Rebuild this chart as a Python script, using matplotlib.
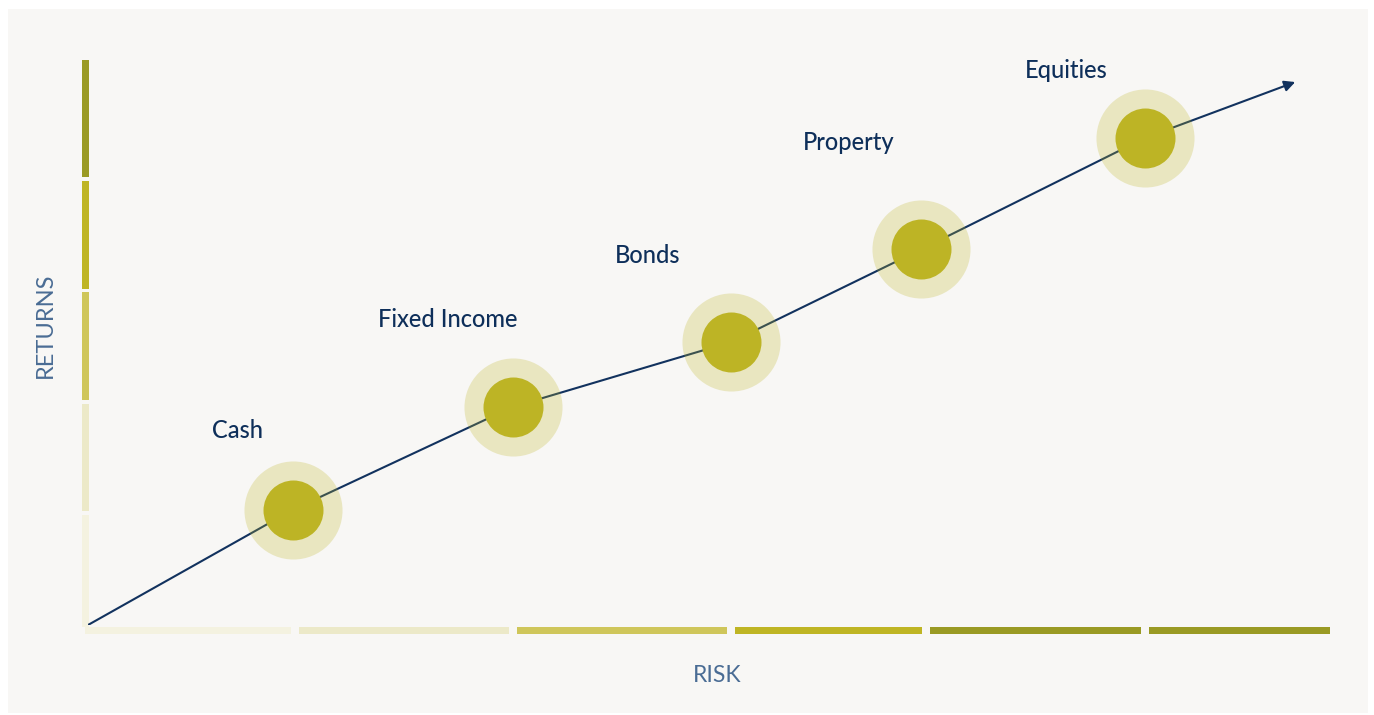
import matplotlib.pyplot as plt
from matplotlib.patches import Rectangle

# asset classes along the risk/return line (0-100 scale)
assets = ['Cash', 'Fixed Income', 'Bonds', 'Property', 'Equities']
risk = [16.5, 34.2, 51.8, 67.1, 85.1]
returns = [20.4, 38.6, 50.1, 66.5, 86.2]
arrow_end = (97.2, 96.1)

# colour bands on the axes
risk_edges = [0, 16.7, 34.2, 51.8, 67.5, 85.1, 100]
risk_colors = ['#F4F2E0', '#ECE9C8', '#CFC65A', '#BFB524', '#9A9A24', '#9A9A24']
return_edges = [0, 19.8, 39.5, 59.2, 78.9, 100]
return_colors = ['#F4F2E0', '#ECE9C8', '#CFC65A', '#BFB524', '#9A9A24']

NAVY = '#12325E'
OLIVE = '#BDB425'
LABEL = '#4A6C94'

fig = plt.figure(figsize=(13.74, 7.15), dpi=100)
fig.patch.set_facecolor('white')
fig.patches.append(Rectangle((8 / 1374, 2 / 715), 1360 / 1374, 704 / 715,
                             transform=fig.transFigure, facecolor='#F8F7F5',
                             edgecolor='none', zorder=-10))

ax = fig.add_axes([88 / 1374, 90 / 715, 1242 / 1374, 565 / 715])
ax.set_xlim(0, 100)
ax.set_ylim(0, 100)
ax.axis('off')

# horizontal risk bar
gx = 0.32
n = len(risk_colors)
for i, c in enumerate(risk_colors):
    x0 = risk_edges[i] + (gx if i > 0 else -0.25)
    x1 = risk_edges[i + 1] - (gx if i < n - 1 else 0)
    ax.add_patch(Rectangle((x0, -1.6), x1 - x0, 1.25, facecolor=c,
                           edgecolor='none', clip_on=False))

# vertical returns bar
gy = 0.35
n = len(return_colors)
for i, c in enumerate(return_colors):
    y0 = return_edges[i] + (gy if i > 0 else -0.3)
    y1 = return_edges[i + 1] - (gy if i < n - 1 else 0)
    ax.add_patch(Rectangle((-0.49, y0), 0.56, y1 - y0, facecolor=c,
                           edgecolor='none', clip_on=False))

# line through the assets
xs = [0] + risk
ys = [0] + returns
ax.plot(xs, ys, color=NAVY, lw=1.5, zorder=2, solid_capstyle='butt')
ax.annotate('', xy=arrow_end, xytext=(risk[-1], returns[-1]),
            arrowprops=dict(arrowstyle='-|>', color=NAVY, lw=1.5,
                            mutation_scale=16, shrinkA=0, shrinkB=0),
            zorder=2)

ax.scatter(risk, returns, s=4985, color=OLIVE, alpha=0.25, lw=0, zorder=3)
ax.scatter(risk, returns, s=1866, color=OLIVE, lw=0, zorder=4)

label_offsets = [(-40, 52), (-47, 57.5), (-60, 57), (-52, 71.5), (-57, 43.5)]
for name, x, y, off in zip(assets, risk, returns, label_offsets):
    ax.annotate(name, (x, y), xytext=off, textcoords='offset points',
                ha='center', va='baseline', fontsize=17, color='#0E2F5A',
                family='Lato', fontweight='medium', zorder=5)

fig.text(717 / 1374, 1 - 675 / 715, 'RISK', ha='center', va='center',
         fontsize=16.5, color=LABEL, family='Lato')
fig.text(45 / 1374, 1 - 325 / 715, 'RETURNS', ha='center', va='center',
         rotation=90, fontsize=17, color=LABEL, family='Lato')

fig.savefig('out.png', dpi=100, facecolor='white')
